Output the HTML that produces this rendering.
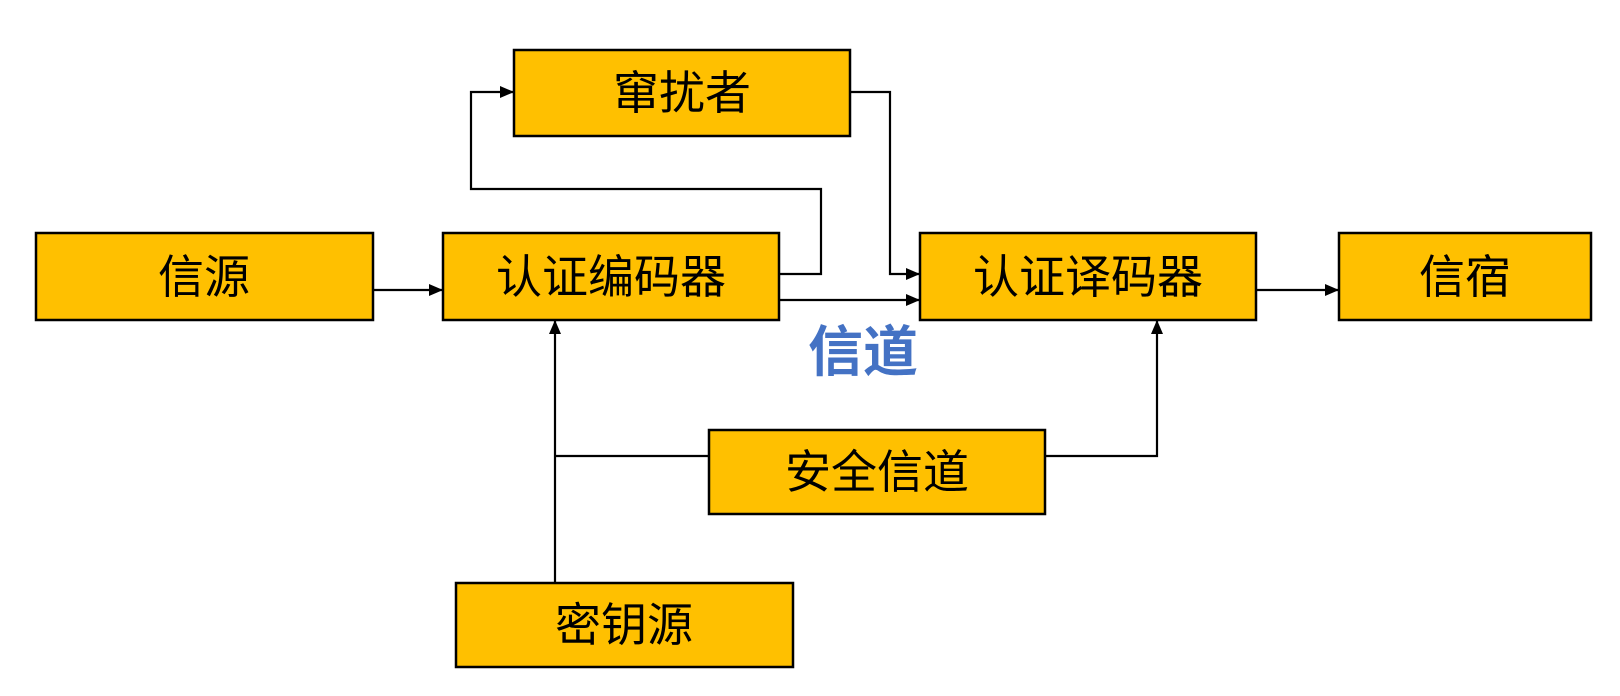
<!DOCTYPE html>
<html><head><meta charset="utf-8">
<style>
html,body{margin:0;padding:0;background:#fff;}
svg{display:block;}
text{font-family:"Liberation Sans","Noto Sans CJK SC",sans-serif;}
</style></head>
<body>
<svg width="1620" height="696" viewBox="0 0 1620 696" xmlns="http://www.w3.org/2000/svg">
<defs>
<marker id="a" markerWidth="14" markerHeight="12" refX="13" refY="6" orient="auto" markerUnits="userSpaceOnUse">
<path d="M0,0 L14,6 L0,12 z" fill="#000"/>
</marker>
</defs>
<g fill="#FFC000" stroke="#000" stroke-width="2.5">
<rect x="514" y="50" width="336" height="86"/>
<rect x="36" y="233" width="337" height="87"/>
<rect x="443" y="233" width="336" height="87"/>
<rect x="920" y="233" width="336" height="87"/>
<rect x="1339" y="233" width="252" height="87"/>
<rect x="709" y="430" width="336" height="84"/>
<rect x="456" y="583" width="337" height="84"/>
</g>
<g stroke="#000" stroke-width="2.2" fill="none">
<path d="M373,290 H442" marker-end="url(#a)"/>
<path d="M779,300 H919" marker-end="url(#a)"/>
<path d="M779,274 H821 V189 H471 V92 H513" marker-end="url(#a)"/>
<path d="M850,92 H890 V274 H919" marker-end="url(#a)"/>
<path d="M1256,290 H1338" marker-end="url(#a)"/>
<path d="M555,583 V321" marker-end="url(#a)"/>
<path d="M709,456 H555"/>
<path d="M1045,456 H1157 V321" marker-end="url(#a)"/>
</g>
<g font-size="46" fill="#000" text-anchor="middle" dominant-baseline="central">
<text x="682" y="93">窜扰者</text>
<text x="204" y="277">信源</text>
<text x="611" y="277">认证编码器</text>
<text x="1088" y="277">认证译码器</text>
<text x="1465" y="277">信宿</text>
<text x="877" y="472">安全信道</text>
<text x="624" y="625">密钥源</text>
</g>
<text x="863" y="352" font-size="55" font-weight="bold" fill="#4472C4" text-anchor="middle" dominant-baseline="central">信道</text>
</svg>
</body></html>
